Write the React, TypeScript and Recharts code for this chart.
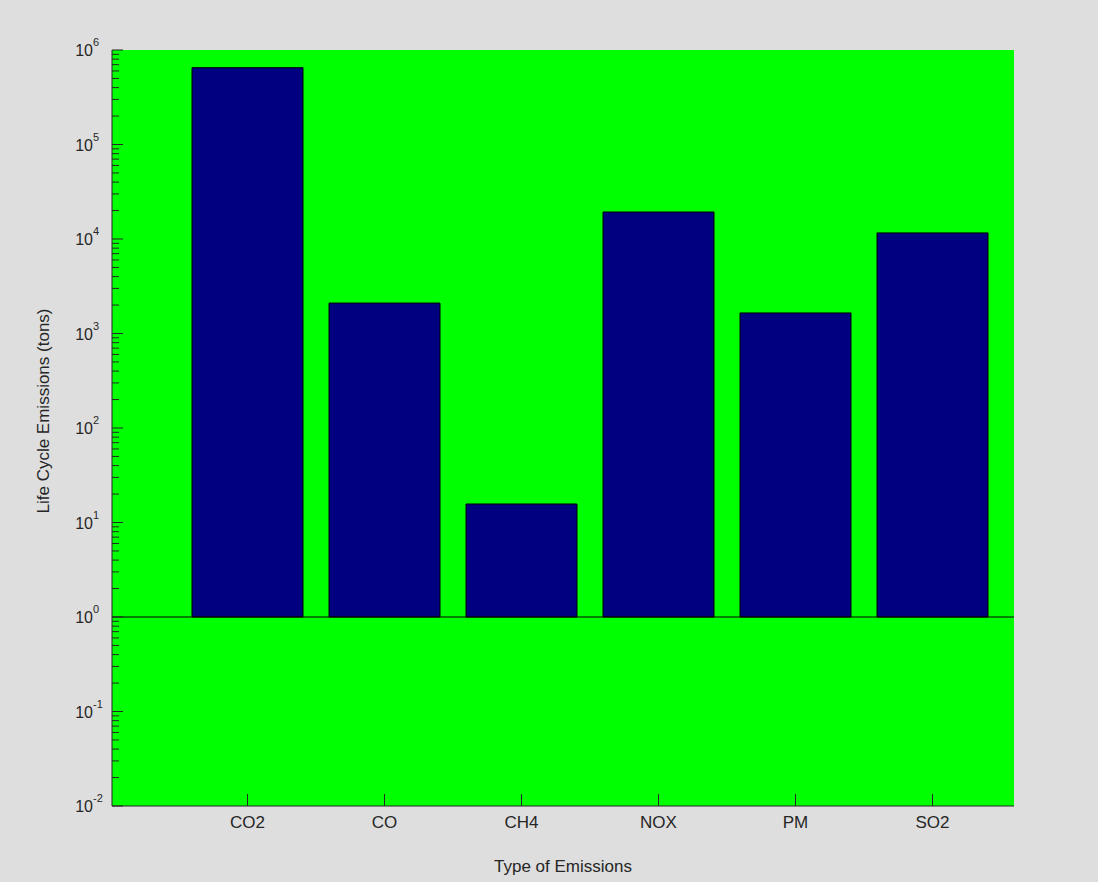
import { BarChart, Bar, XAxis, YAxis, CartesianGrid, ReferenceLine } from 'recharts'

const categories = ['CO2', 'CO', 'CH4', 'NOX', 'PM', 'SO2']
const emissions = [650000, 2100, 15.7, 19300, 1650, 11600]
const majorExponents = [-2, -1, 0, 1, 2, 3, 4, 5, 6]
const minorMultipliers = [2, 3, 4, 5, 6, 7, 8, 9]
const barBase = 1

const majorTicks = majorExponents.map((e) => Math.pow(10, e))
const minorTicks = majorExponents.slice(0, -1).flatMap((e) => minorMultipliers.map((m) => m * Math.pow(10, e)))
const allTicks = [...majorTicks, ...minorTicks].sort((a, b) => a - b)

const data = categories.map((name, i) => ({ name, range: [barBase, emissions[i]] }))

const ink = '#262626'
const font = '"Liberation Sans", Arial, sans-serif'

function YTick({ x, y, payload }: any) {
  const v = payload.value
  const idx = majorTicks.findIndex((m) => Math.abs(m - v) / m < 1e-9)
  const isMajor = idx >= 0
  return (
    <g>
      <line x1={x} x2={x + (isMajor ? 11 : 7)} y1={y} y2={y} stroke={ink} strokeWidth={1} />
      {isMajor && (
        <g fontFamily={font} fill={ink}>
          <text x={x - 19} y={y + 6} textAnchor="end" fontSize={16}>10</text>
          <text x={x - 19} y={y - 4} textAnchor="start" fontSize={11}>{majorExponents[idx]}</text>
        </g>
      )}
    </g>
  )
}

function XTick({ x, y, payload }: any) {
  return (
    <g>
      <line x1={x} x2={x} y1={y} y2={y - 12} stroke={ink} strokeWidth={1} />
      <text x={x} y={y + 22} textAnchor="middle" fontSize={17} fontFamily={font} fill={ink}>{payload.value}</text>
    </g>
  )
}

function TopTick({ x, y }: any) {
  return <line x1={x} x2={x} y1={y} y2={y + 12} stroke={ink} strokeWidth={1} />
}

function YLabel({ viewBox }: any) {
  const cx = viewBox.x + 43
  const cy = viewBox.y + viewBox.height / 2 - 17
  return (
    <text x={cx} y={cy} transform={`rotate(-90, ${cx}, ${cy})`} textAnchor="middle" dominantBaseline="central" fontSize={17} fontFamily={font} fill={ink}>
      Life Cycle Emissions (tons)
    </text>
  )
}

export default function App() {
  return (
    <div style={{ position: 'absolute', left: 0, top: 0, width: 1098, height: 882, background: '#dedede' }}>
      <BarChart width={1098} height={882} data={data} margin={{ top: 50, right: 84, bottom: 0, left: 0 }} barCategoryGap="9.5%">
        <CartesianGrid horizontal={false} vertical={false} fill="#00ff00" stroke="none" />
        <XAxis
          dataKey="name"
          height={76}
          padding={{ left: 67, right: 13 }}
          interval={0}
          tickLine={false}
          tickSize={0}
          tickMargin={0}
          tick={<XTick />}
          axisLine={{ stroke: ink }}
          label={{ value: 'Type of Emissions', position: 'insideBottom', offset: 10, fontSize: 17, fontFamily: font, fill: ink }}
        />
        <XAxis
          xAxisId="top"
          orientation="top"
          dataKey="name"
          height={0}
          padding={{ left: 67, right: 13 }}
          interval={0}
          tickLine={false}
          tickSize={0}
          tickMargin={0}
          tick={<TopTick />}
          axisLine={{ stroke: ink }}
        />
        <YAxis
          type="number"
          scale="log"
          domain={[0.01, 1000000]}
          allowDataOverflow
          ticks={allTicks}
          interval={0}
          width={112}
          tickLine={false}
          tickSize={0}
          tickMargin={0}
          tick={<YTick />}
          axisLine={{ stroke: ink }}
          label={<YLabel />}
        />
        <Bar dataKey="range" fill="#000080" stroke="#000000" strokeWidth={1} isAnimationActive={false} />
        <ReferenceLine y={barBase} stroke="#000000" strokeWidth={1} />
      </BarChart>
    </div>
  )
}
